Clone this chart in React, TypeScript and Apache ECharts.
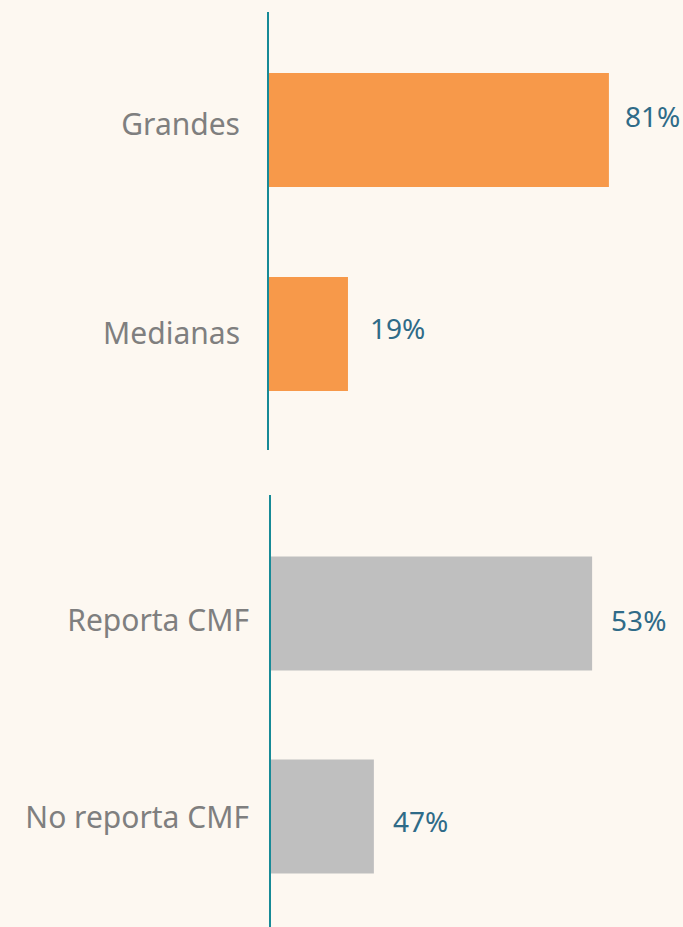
import React, { useEffect, useRef } from "react";
import * as echarts from "echarts";

const sizeCategories = ["Grandes", "Medianas"];
const sizeValues = [81, 19];
const sizeLabels = ["81%", "19%"];

const reportCategories = ["Reporta CMF", "No reporta CMF"];
const reportBarValues = [76.9, 24.8];
const reportLabels = ["53%", "47%"];

const BG = "#FDF8F1";
const ORANGE = "#F7994A";
const GREY = "#BFBFBF";
const TEAL = "#178A97";
const CAT_COLOR = "#7F7F7F";
const VAL_COLOR = "#2F6B88";
const FONT = "Noto Sans";
const CAT_SIZE = 30;
const VAL_SIZE = 28;

export default function App() {
  const ref = useRef<HTMLDivElement>(null);
  useEffect(() => {
    document.body.style.margin = "0";
    document.body.style.background = BG;
    const chart = echarts.init(ref.current!, null, { renderer: "svg" });
    const valOffsets1 = [[0, -14, 16], [0, -6, 22]];
    const valOffsets2 = [[0, 6, 19], [0, 4, 19]];
    const cs = { color: CAT_COLOR, fontSize: CAT_SIZE, fontFamily: FONT };
    const catRich = {
      u6: { ...cs, padding: [0, 0, 14, 0] },
      u1: { ...cs, padding: [0, 0, 4, 0] },
      d7: { ...cs, padding: [12, 0, 0, 0] },
      d1: { ...cs, padding: [0, 0, 0, 0] },
    };
    const catStyle: Record<string, string> = {
      Grandes: "u6",
      Medianas: "u1",
      "Reporta CMF": "d7",
      "No reporta CMF": "d1",
    };
    chart.setOption({
      animation: false,
      backgroundColor: BG,
      grid: [
        { left: 268, top: 28, height: 408, right: 0 },
        { left: 270, top: 512, height: 406, right: 0 },
      ],
      xAxis: [0, 1].map((i) => ({
        gridIndex: i,
        type: "value",
        min: 0,
        max: 98.6,
        show: false,
      })),
      yAxis: [
        { cats: sizeCategories, margin: 28 },
        { cats: reportCategories, margin: 21 },
      ].map((a, i) => ({
        gridIndex: i,
        type: "category",
        data: a.cats,
        inverse: true,
        axisLine: { show: false },
        axisTick: { show: false },
        splitLine: { show: false },
        axisLabel: {
          margin: a.margin,
          formatter: (v: string) => `{${catStyle[v]}|${v}}`,
          rich: catRich,
        },
      })),
      series: [
        {
          type: "bar",
          xAxisIndex: 0,
          yAxisIndex: 0,
          barWidth: 114,
          itemStyle: { color: ORANGE },
          data: sizeValues.map((v, i) => ({
            value: v,
            label: {
              show: true,
              position: "right",
              offset: [valOffsets1[i][0], valOffsets1[i][1]],
              distance: valOffsets1[i][2],
              formatter: sizeLabels[i],
              color: VAL_COLOR,
              fontSize: VAL_SIZE,
              fontFamily: FONT,
            },
          })),
        },
        {
          type: "bar",
          xAxisIndex: 1,
          yAxisIndex: 1,
          barWidth: 114,
          itemStyle: { color: GREY },
          data: reportBarValues.map((v, i) => ({
            value: v,
            label: {
              show: true,
              position: "right",
              offset: [valOffsets2[i][0], valOffsets2[i][1]],
              distance: valOffsets2[i][2],
              formatter: reportLabels[i],
              color: VAL_COLOR,
              fontSize: VAL_SIZE,
              fontFamily: FONT,
            },
          })),
        },
      ],
      graphic: [
        { type: "line", shape: { x1: 268, y1: 12, x2: 268, y2: 450 }, style: { stroke: TEAL, lineWidth: 2 }, z: 10 },
        { type: "line", shape: { x1: 270, y1: 495, x2: 270, y2: 927 }, style: { stroke: TEAL, lineWidth: 2 }, z: 10 },
      ],
    });
    return () => chart.dispose();
  }, []);
  return <div ref={ref} style={{ width: 683, height: 927 }} />;
}
